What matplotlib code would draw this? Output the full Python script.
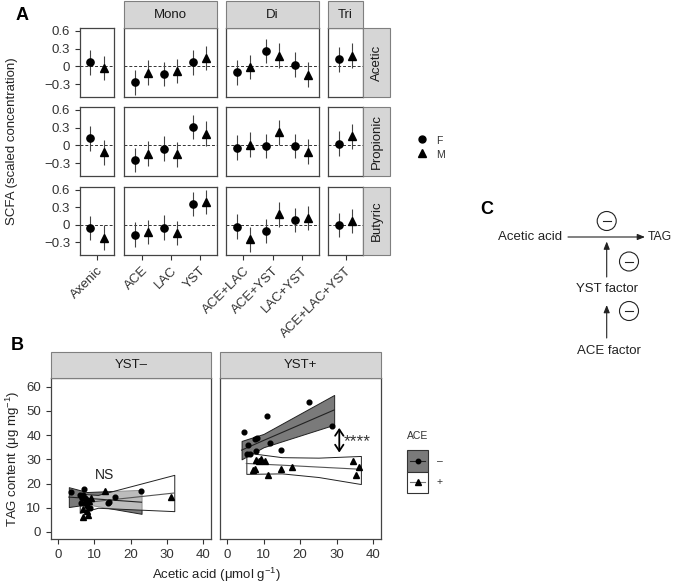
import numpy as np
import matplotlib
matplotlib.use('Agg')
import matplotlib.pyplot as plt
from matplotlib.patches import Rectangle, Circle

plt.rcParams['font.family'] = ['Liberation Sans', 'DejaVu Sans']
plt.rcParams['mathtext.fontset'] = 'custom'
plt.rcParams['mathtext.rm'] = 'Liberation Sans'
plt.rcParams['mathtext.it'] = 'Liberation Sans:italic'

# ---- panel A data (scaled SCFA, F = circles, M = triangles) ----
categories = ["Axenic", "ACE", "LAC", "YST", "ACE+LAC", "ACE+YST", "LAC+YST", "ACE+LAC+YST"]
facets = ["", "Mono", "Di", "Tri"]
facet_idx = [[0], [1, 2, 3], [4, 5, 6], [7]]
scfa_names = ["Acetic", "Propionic", "Butyric"]
acetic_f = [0.07, -0.27, -0.13, 0.07, -0.10, 0.26, 0.03, 0.12]
acetic_m = [-0.03, -0.11, -0.08, 0.14, -0.01, 0.18, -0.14, 0.18]
propionic_f = [0.12, -0.25, -0.06, 0.31, -0.04, -0.01, -0.01, 0.03]
propionic_m = [-0.12, -0.14, -0.15, 0.20, 0.01, 0.22, -0.11, 0.15]
butyric_f = [-0.06, -0.17, -0.05, 0.36, -0.03, -0.11, 0.08, 0.00]
butyric_m = [-0.22, -0.12, -0.14, 0.39, -0.25, 0.18, 0.12, 0.06]
scfa_err = 0.21

# ---- panel B data ----
# YST- , ACE- (circles) / ACE+ (triangles)
ym_minus_x = [3.5, 6.1, 6.4, 6.6, 7.0, 7.3, 7.5, 7.5, 7.9, 7.9, 8.8, 13.7, 14.1, 15.7, 22.9]
ym_minus_y = [16.6, 15.3, 11.9, 13.9, 15.3, 17.6, 14.0, 12.0, 13.2, 10.7, 10.0, 11.9, 12.5, 14.5, 16.8]
ym_plus_x = [6.8, 7.0, 7.9, 8.4, 8.6, 9.2, 12.9, 31.2]
ym_plus_y = [9.4, 6.3, 8.8, 7.0, 12.9, 14.0, 17.0, 14.5]
# YST+
yp_minus_x = [4.7, 5.5, 5.8, 6.2, 7.6, 8.1, 8.0, 10.9, 11.7, 14.9, 22.4, 28.6]
yp_minus_y = [41.2, 32.3, 35.9, 32.1, 38.5, 38.8, 33.6, 47.7, 36.6, 33.9, 53.8, 43.9]
yp_plus_x = [7.0, 7.6, 8.0, 8.7, 9.3, 10.5, 11.2, 14.8, 17.7, 34.4, 35.2, 36.2]
yp_plus_y = [25.6, 26.2, 29.8, 29.5, 30.0, 29.5, 23.6, 26.2, 27.0, 29.5, 23.6, 26.7]

# fitted lines and confidence bands
ym_minus_fx = [3, 8, 23]
ym_minus_fit = [14.4, 13.9, 12.3]
ym_minus_lo = [10.3, 11.4, 7.5]
ym_minus_hi = [18.5, 16.5, 17.4]
ym_plus_fx = [6, 11, 32]
ym_plus_fit = [11.8, 12.7, 16.1]
ym_plus_lo = [7.9, 10.0, 8.6]
ym_plus_hi = [15.8, 15.3, 23.6]
yp_minus_fx = [4, 10, 29.3]
yp_minus_fit = [33.8, 37.8, 50.4]
yp_minus_lo = [30.0, 35.0, 44.3]
yp_minus_hi = [37.6, 40.5, 56.6]
yp_plus_fx = [5.3, 15, 25, 36.6]
yp_plus_fit = [28.3, 27.6, 26.8, 25.9]
yp_plus_lo = [24.0, 24.2, 22.7, 19.8]
yp_plus_hi = [32.8, 30.9, 30.7, 31.4]

W, H = 673, 586
fig = plt.figure(figsize=(W / 100, H / 100), dpi=100)


def box(x0, y0, x1, y1):
    return [x0 / W, 1 - y1 / H, (x1 - x0) / W, (y1 - y0) / H]


def style_spines(ax):
    for s in ax.spines.values():
        s.set_color('#444444')
        s.set_linewidth(0.9)
    ax.tick_params(colors='#333333', width=0.8, length=3.5, labelsize=9.5,
                   labelcolor='#333333')


# ---------- panel A ----------
cols = [(80, 114), (124, 217), (226, 319), (328, 363)]
rows = [(28, 97), (107, 176), (187, 255)]
f_rows = [acetic_f, propionic_f, butyric_f]
m_rows = [acetic_m, propionic_m, butyric_m]
dodge = 0.24

for r, (y0, y1) in enumerate(rows):
    for c, (x0, x1) in enumerate(cols):
        ax = fig.add_axes(box(x0, y0, x1, y1))
        idx = facet_idx[c]
        n = len(idx)
        pos = np.arange(1, n + 1)
        half = (x1 - x0) / 29 / 2
        ax.set_xlim((n + 1) / 2 - half, (n + 1) / 2 + half)
        ax.set_ylim(-0.52, 0.65)
        ax.axhline(0, color='#333333', lw=0.7, ls=(0, (3, 2)))
        fv = [f_rows[r][i] for i in idx]
        mv = [m_rows[r][i] for i in idx]
        ax.errorbar(pos - dodge, fv, yerr=scfa_err, fmt='o', color='black',
                    ecolor='#444444', elinewidth=0.8, ms=5.2, capsize=0)
        ax.errorbar(pos + dodge, mv, yerr=scfa_err, fmt='^', color='black',
                    ecolor='#444444', elinewidth=0.8, ms=6, capsize=0)
        style_spines(ax)
        ax.set_yticks([-0.3, 0, 0.3, 0.6])
        if c == 0:
            ax.set_yticklabels(["\u22120.3", "0", "0.3", "0.6"])
        else:
            ax.tick_params(left=False, labelleft=False)
        ax.set_xticks(pos)
        if r == 2:
            ax.set_xticklabels([categories[i] for i in idx], rotation=45,
                               ha='right', va='top', rotation_mode='anchor')
        else:
            ax.tick_params(bottom=False, labelbottom=False)

# ---------- panel B ----------
bcols = [(51, 211), (220, 381)]
by0, by1 = 378, 539
b_sets = [
    (ym_minus_x, ym_minus_y, ym_plus_x, ym_plus_y,
     (ym_minus_fx, ym_minus_fit, ym_minus_lo, ym_minus_hi),
     (ym_plus_fx, ym_plus_fit, ym_plus_lo, ym_plus_hi)),
    (yp_minus_x, yp_minus_y, yp_plus_x, yp_plus_y,
     (yp_minus_fx, yp_minus_fit, yp_minus_lo, yp_minus_hi),
     (yp_plus_fx, yp_plus_fit, yp_plus_lo, yp_plus_hi)),
]
b_axes = []
for c, (x0, x1) in enumerate(bcols):
    ax = fig.add_axes(box(x0, by0, x1, by1))
    mx, my, px_, py, dfit, wfit = b_sets[c]
    fx, fy, lo, hi = dfit
    ax.fill_between(fx, lo, hi, facecolor='#7a7a7a', edgecolor='#222222', lw=0.7, zorder=2)
    ax.plot(fx, fy, color='#222222', lw=0.8, zorder=3)
    fx, fy, lo, hi = wfit
    ax.fill_between(fx, lo, hi, facecolor=(1, 1, 1, 0.5), edgecolor='#222222', lw=0.7, zorder=2)
    ax.plot(fx, fy, color='#555555', lw=0.8, zorder=3)
    ax.plot(mx, my, 'o', color='black', ms=3.4, zorder=4)
    ax.plot(px_, py, '^', color='black', ms=3.9, zorder=4)
    ax.set_xlim(-1.9, 42.1)
    ax.set_ylim(-2.9, 63.6)
    ax.set_xticks([0, 10, 20, 30, 40])
    ax.set_yticks([0, 10, 20, 30, 40, 50, 60])
    style_spines(ax)
    if c > 0:
        ax.tick_params(left=False, labelleft=False)
    b_axes.append(ax)

b_axes[0].set_ylabel("TAG content (\u03bcg mg$^{-1}$)", fontsize=9.5, color='#222222', labelpad=3)
b_axes[0].text(12.9, 23.5, "NS", ha='center', va='center', fontsize=10, color='#222222')
b_axes[1].annotate('', xy=(30.7, 43.0), xytext=(30.7, 32.8),
                   arrowprops=dict(arrowstyle='<->,head_length=0.45,head_width=0.3',
                                   color='black', lw=1.3, shrinkA=0, shrinkB=0))
b_axes[1].text(31.8, 37.3, "****", ha='left', va='center', fontsize=12.5, color='#333333')

# ---------- overlay (strips, legends, labels, panel C) ----------
ov = fig.add_axes([0, 0, 1, 1])
ov.set_xlim(0, W)
ov.set_ylim(H, 0)
ov.axis('off')
ov.patch.set_visible(False)

strip_fc, strip_ec = '#d6d6d6', '#7f7f7f'
for c in range(1, 4):
    x0, x1 = cols[c]
    ov.add_patch(Rectangle((x0, 1), x1 - x0, 27, fc=strip_fc, ec=strip_ec, lw=0.8))
    ov.text((x0 + x1) / 2, 15, facets[c], ha='center', va='center', fontsize=9.5, color='#1a1a1a')
for r, (y0, y1) in enumerate(rows):
    ov.add_patch(Rectangle((363, y0), 27, y1 - y0, fc=strip_fc, ec=strip_ec, lw=0.8))
    ov.text(377, (y0 + y1) / 2, scfa_names[r], ha='center', va='center', rotation=90,
            fontsize=9.5, color='#1a1a1a')
for c, lab in enumerate(["YST\u2013", "YST+"]):
    x0, x1 = bcols[c]
    ov.add_patch(Rectangle((x0, 352), x1 - x0, 26, fc=strip_fc, ec=strip_ec, lw=0.8))
    ov.text((x0 + x1) / 2, 365.5, lab, ha='center', va='center', fontsize=9.5, color='#1a1a1a')

# axis titles
ov.text(12, 141, "SCFA (scaled concentration)", rotation=90, ha='center', va='center',
        fontsize=9.5, color='#222222')
ov.text(216, 575, "Acetic acid (\u03bcmol g$^{-1}$)", ha='center', va='center',
        fontsize=9.5, color='#222222')

# panel letters
ov.text(22, 15, "A", fontsize=13, fontweight='bold', ha='center', va='center')
ov.text(17, 345, "B", fontsize=13, fontweight='bold', ha='center', va='center')
ov.text(487, 209, "C", fontsize=13, fontweight='bold', ha='center', va='center')

# legend A
ov.plot(422, 139, 'o', color='black', ms=5)
ov.plot(422, 153, '^', color='black', ms=5.5)
ov.text(436, 141, "F", fontsize=7.5, va='center', color='#333333')
ov.text(436, 155, "M", fontsize=7.5, va='center', color='#333333')

# legend B
ov.text(407, 436, "ACE", fontsize=7.5, va='center', color='#333333')
ov.add_patch(Rectangle((407, 450), 21, 21.5, fc='#7a7a7a', ec='#333333', lw=0.8))
ov.add_patch(Rectangle((407, 471.5), 21, 21, fc='white', ec='#333333', lw=0.8))
ov.plot([410, 425], [460.7, 460.7], color='#222222', lw=0.8)
ov.plot(417.5, 460.7, 'o', color='black', ms=3.2)
ov.plot([410, 425], [482, 482], color='#777777', lw=0.8)
ov.plot(417.5, 481.5, '^', color='black', ms=3.7)
ov.text(437, 460.7, "\u2013", fontsize=7.5, va='center', color='#333333')
ov.text(437, 482, "+", fontsize=7.5, va='center', color='#333333')

# panel C diagram
arrow_kw = dict(arrowstyle='-|>,head_length=0.45,head_width=0.18', color='#222222',
                lw=0.8, shrinkA=0, shrinkB=0)
ov.text(562, 237, "Acetic acid", ha='right', va='center', fontsize=9.5, color='#222222')
ov.text(648, 237, "TAG", ha='left', va='center', fontsize=8.8, color='#222222')
ov.annotate('', xy=(645, 237), xytext=(568, 237), arrowprops=arrow_kw)
ov.annotate('', xy=(606.7, 241.5), xytext=(606.7, 277), arrowprops=arrow_kw)
ov.text(606.7, 289, "YST factor", ha='center', va='center', fontsize=9.5, color='#222222')
ov.annotate('', xy=(606.7, 305), xytext=(606.7, 338), arrowprops=arrow_kw)
ov.text(609, 351, "ACE factor", ha='center', va='center', fontsize=9.5, color='#222222')
for cx, cy in [(606.7, 221), (629, 261.5), (629, 311)]:
    ov.add_patch(Circle((cx, cy), 9.5, fill=False, ec='#222222', lw=0.8))
    ov.plot([cx - 4, cx + 4], [cy, cy], color='#222222', lw=0.8)

fig.savefig("out.png", dpi=100)
